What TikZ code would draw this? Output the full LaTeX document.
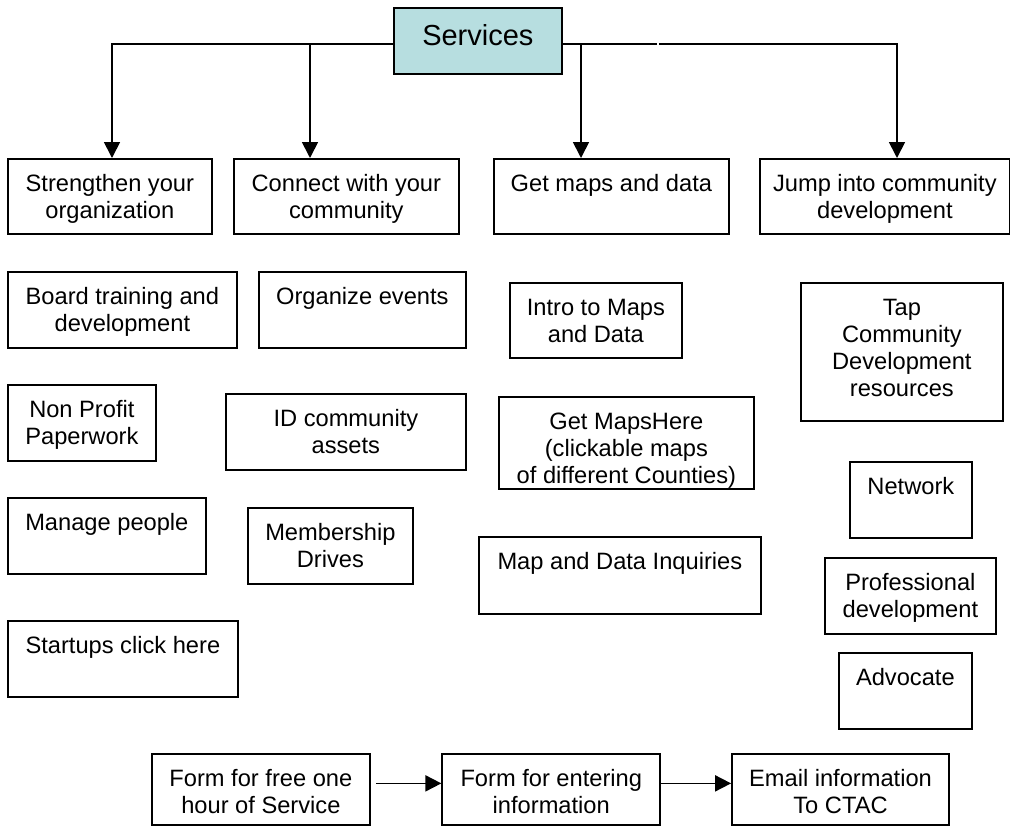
\documentclass[tikz,border=0pt]{standalone}
\usepackage{fontspec}
\setmainfont{Liberation Sans}
\usetikzlibrary{arrows.meta,positioning}

\definecolor{servfill}{RGB}{183,222,224}
\newdimen\pxu \pxu=0.75pt
\newcommand{\boxtext}[3]{\parbox[c][#2\pxu][t]{#1\pxu}{\centering\vspace*{10pt}\strut#3}}

\tikzset{
  box/.style={draw, line width=1.3pt, anchor=north west, inner sep=0pt,
    font=\fontsize{17.75}{20.25}\selectfont},
  link/.style={line width=1.3pt},
  arr/.style={link, -{Triangle[length=12pt,width=12pt]}},
}

\begin{document}
\begin{tikzpicture}[x=0.75pt, y=-0.75pt]
	\useasboundingbox (0,0) rectangle (1010,825);

	\node[box, fill=servfill, font=\fontsize{21.75}{26}\selectfont] (services) at (393,7) {\boxtext{168}{66}{Services}};

	\node[box] (strengthen) at (7,158) {\boxtext{204}{75}{Strengthen your\\organization}};
	\node[box] (connect) at (233,158) {\boxtext{225}{75}{Connect with your\\community}};
	\node[box] (getmaps) at (493,158) {\boxtext{235}{75}{Get maps and data}};
	\node[box] (jump) at (759,158) {\boxtext{250}{75}{Jump into community\\development}};

	\node[box] (board) at (7,271) {\boxtext{229}{76}{Board training and\\development}};
	\node[box] (nonprofit) at (7,384) {\boxtext{148}{76}{Non Profit\\Paperwork}};
	\node[box] (manage) at (7,497) {\boxtext{198}{76}{Manage people}};
	\node[box] (startups) at (7,620) {\boxtext{230}{76}{Startups click here}};

	\node[box] (organize) at (258,271) {\boxtext{207}{76}{Organize events}};
	\node[box] (idassets) at (225,393) {\boxtext{240}{76}{ID community\\assets}};
	\node[box] (membership) at (247,507) {\boxtext{165}{76}{Membership\\Drives}};

	\node[box] (intro) at (509,282) {\boxtext{172}{75}{Intro to Maps\\and Data}};
	\node[box] (mapshere) at (498,396) {\boxtext{255}{92}{Get MapsHere\\(clickable maps\\of different Counties)}};
	\node[box] (mapinq) at (478,536) {\boxtext{282}{77}{Map and Data Inquiries}};

	\node[box] (tap) at (800,282) {\boxtext{202}{138}{Tap\\Community\\Development\\resources}};
	\node[box] (network) at (849,461) {\boxtext{122}{76}{Network}};
	\node[box] (prof) at (824,557) {\boxtext{171}{76}{Professional\\development}};
	\node[box] (advocate) at (838,652) {\boxtext{133}{76}{Advocate}};

	\node[box] (form1) at (151,753) {\boxtext{218}{71}{Form for free one\\hour of Service}};
	\node[box, right=53pt of form1] (form2) {\boxtext{218}{71}{Form for entering\\information}};
	\node[box, right=52.5pt of form2] (email) {\boxtext{217}{71}{Email information\\To CTAC}};

	\coordinate (j1) at (112,44);
	\coordinate (j2) at (310,44);
	\coordinate (j3) at (581,44);
	\coordinate (j4) at (897,44);
	\coordinate (gap) at (658,44);

	\draw[arr] (services.west |- j1) -| (j1 |- strengthen.north);
	\draw[arr] (j2) -- (j2 |- connect.north);
	\draw[link] (services.east |- j3) -- ([xshift=-1pt]gap);
	\draw[arr] ([xshift=1pt]gap) -| (j4 |- jump.north);
	\draw[arr] (j3) -- (j3 |- getmaps.north);

	\draw[arr, shorten <=4pt] ([yshift=4.5pt]form1.east) -- ([yshift=4.5pt]form2.west);
	\draw[arr] ([yshift=4.5pt]form2.east) -- ([yshift=4.5pt]email.west);
\end{tikzpicture}
\end{document}
